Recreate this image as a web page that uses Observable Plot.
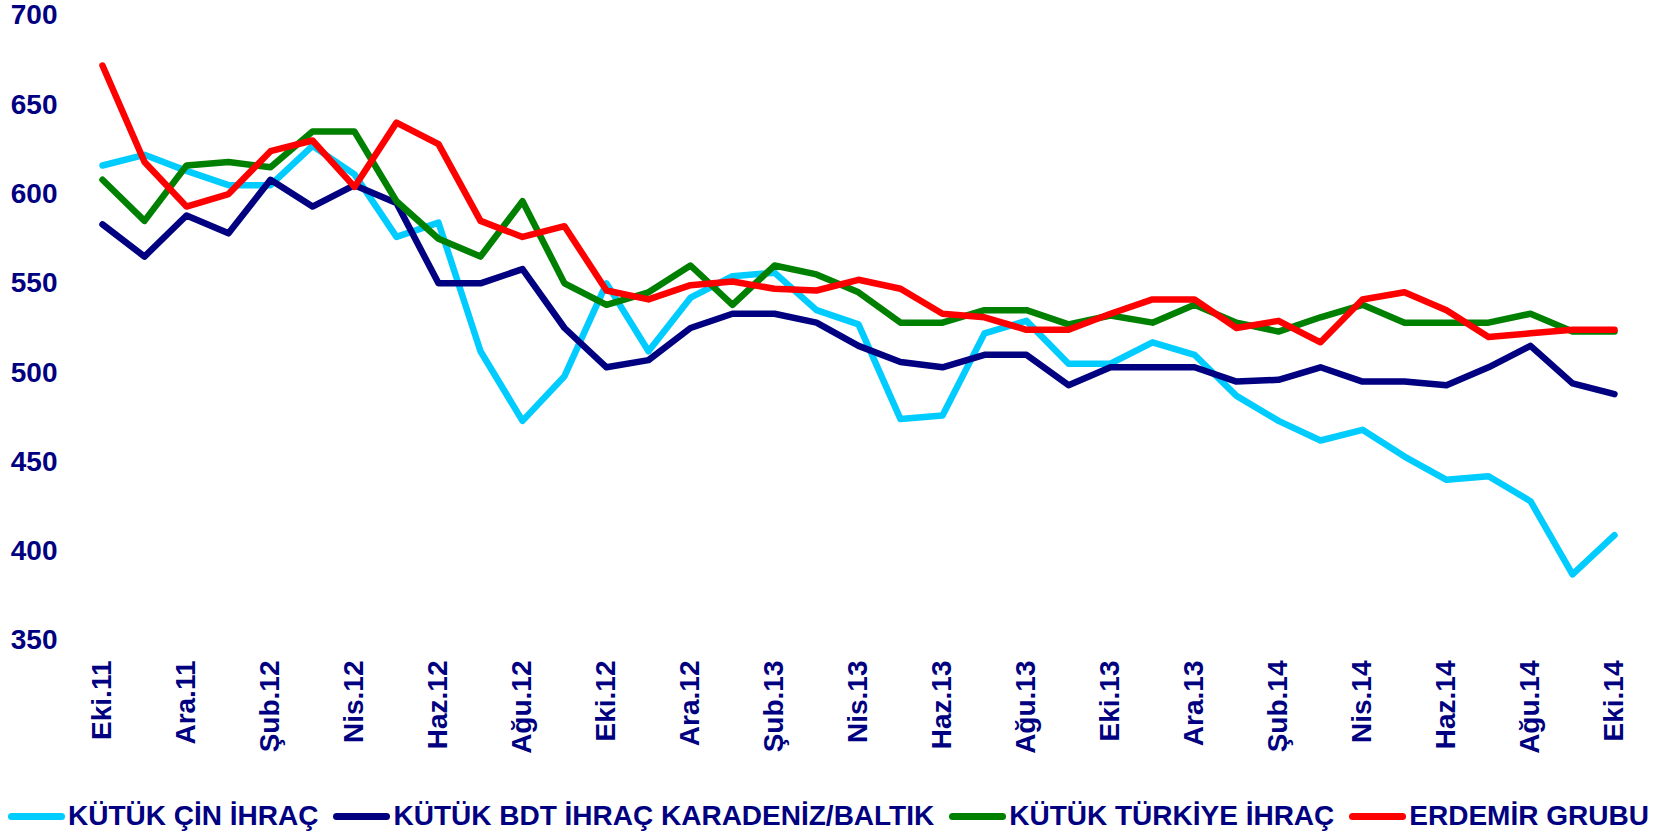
<!DOCTYPE html>
<html>
<head>
<meta charset="utf-8">
<script src="https://cdn.jsdelivr.net/npm/d3@7"></script>
<script src="https://cdn.jsdelivr.net/npm/@observablehq/plot@0.6"></script>
<style>
  html, body { margin: 0; padding: 0; background: #fff; }
  body { width: 1657px; height: 835px; overflow: hidden; font-family: "Liberation Sans", Arial, sans-serif; }
  #chart svg { display: block; }
  #legend { display: flex; align-items: center; padding-left: 8px; margin-top: 26px; height: 30px;
            font-family: "Liberation Sans", Arial, sans-serif; font-weight: bold; font-size: 28px; color: #000080; white-space: nowrap; }
  .item { display: flex; align-items: center; margin-right: 15px; }
  .sw { width: 57px; height: 7px; border-radius: 4px; margin-right: 3px; }
</style>
</head>
<body>
<div id="chart"></div>
<div id="legend"></div>
<script>
const months = ["Eki.11","Kas.11","Ara.11","Oca.12","Şub.12","Mar.12","Nis.12","May.12","Haz.12","Tem.12","Ağu.12","Eyl.12",
  "Eki.12","Kas.12","Ara.12","Oca.13","Şub.13","Mar.13","Nis.13","May.13","Haz.13","Tem.13","Ağu.13","Eyl.13",
  "Eki.13","Kas.13","Ara.13","Oca.14","Şub.14","Mar.14","Nis.14","May.14","Haz.14","Tem.14","Ağu.14","Eyl.14","Eki.14"];

const tickLabels = ["Eki.11","Ara.11","Şub.12","Nis.12","Haz.12","Ağu.12","Eki.12","Ara.12","Şub.13","Nis.13","Haz.13","Ağu.13",
  "Eki.13","Ara.13","Şub.14","Nis.14","Haz.14","Ağu.14","Eki.14"];

const yTicks = [350, 400, 450, 500, 550, 600, 650, 700];

const seriesNames = ["KÜTÜK ÇİN İHRAÇ", "KÜTÜK BDT İHRAÇ KARADENİZ/BALTIK", "KÜTÜK TÜRKİYE İHRAÇ", "ERDEMİR GRUBU"];
const seriesColors = ["#00CCFF", "#000080", "#008000", "#FF0000"];

const cinIhrac = [616,622,613,605,605,627,611,576,584,512,473,498,550,512,542,554,556,535,527,474,476,522,529,505,
  505,517,510,487,473,462,468,453,440,442,428,387,409];
const bdtIhrac = [583,565,588,578,608,593,605,595,550,550,558,525,503,507,525,533,533,528,515,506,503,510,510,493,
  503,503,503,495,496,503,495,495,493,503,515,494,488];
const turkiyeIhrac = [608,585,616,618,615,635,635,596,575,565,596,550,538,545,560,538,560,555,545,528,528,535,535,527,
  532,528,538,528,523,531,538,528,528,528,533,523,523];
const erdemir = [672,618,593,600,624,630,604,640,628,585,576,582,546,541,549,551,547,546,552,547,533,531,524,524,
  533,541,541,525,529,517,541,545,535,520,522,524,524];

const seriesValues = [cinIhrac, bdtIhrac, turkiyeIhrac, erdemir];

const data = [];
seriesNames.forEach((name, s) => {
  seriesValues[s].forEach((v, i) => data.push({month: months[i], value: v, series: name}));
});

const font = '"Liberation Sans", Arial, sans-serif';

const chart = Plot.plot({
  width: 1657,
  height: 775,
  marginLeft: 102,
  marginRight: 43,
  marginTop: 15,
  marginBottom: 135,
  style: {fontFamily: font, fontSize: "28px", fontWeight: "bold", color: "#000080", background: "#fff"},
  x: {type: "point", domain: months, padding: 0, label: null},
  y: {domain: [350, 700], label: null},
  color: {domain: seriesNames, range: seriesColors},
  marks: [
    Plot.axisY({ticks: yTicks, tickSize: 0, tickPadding: 45, label: null}),
    Plot.axisX({ticks: tickLabels, tickSize: 0, tickPadding: 20, tickRotate: -90, label: null}),
    Plot.line(data, {x: "month", y: "value", z: "series", stroke: "series", strokeWidth: 6.5,
      strokeLinejoin: "round", strokeLinecap: "round"})
  ]
});
document.getElementById("chart").appendChild(chart);

const legend = document.getElementById("legend");
seriesNames.forEach((name, s) => {
  const item = document.createElement("div");
  item.className = "item";
  const sw = document.createElement("span");
  sw.className = "sw";
  sw.style.background = seriesColors[s];
  const t = document.createElement("span");
  t.textContent = name;
  item.appendChild(sw);
  item.appendChild(t);
  legend.appendChild(item);
});
</script>
</body>
</html>
